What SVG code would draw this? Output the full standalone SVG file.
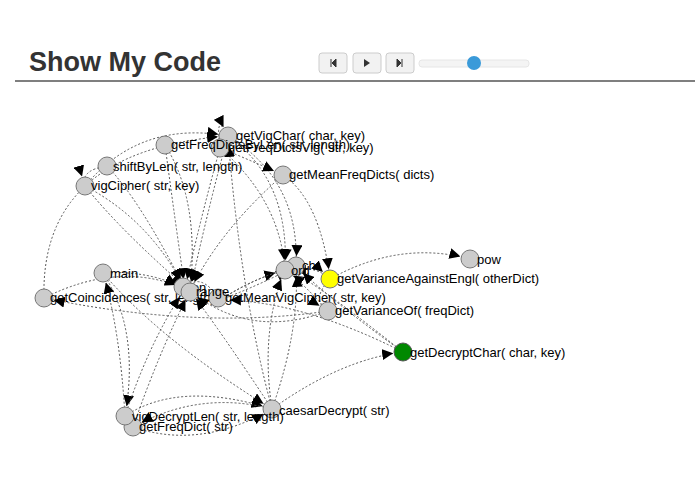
<svg xmlns="http://www.w3.org/2000/svg" width="695" height="494" viewBox="0 0 695 494">
<style>
.e{fill:none;stroke:#555;stroke-width:1;stroke-dasharray:2,2;marker-end:url(#a)}
.n{fill:#ccc;stroke:#777;stroke-width:1}
text{font-family:"Liberation Sans",Arial,sans-serif;font-size:13px;fill:#000}
.btn{fill:#f2f2f2;stroke:#ccc}
</style>
<defs><marker id="a" viewBox="0 0 10 10" refX="19" refY="5" markerWidth="11" markerHeight="11" markerUnits="userSpaceOnUse" orient="auto"><path d="M0,0L10,5L0,10z" fill="#000"/></marker></defs>
<rect width="695" height="494" fill="#fff"/>
<text x="29" y="71" style="font-size:27px;font-weight:bold;fill:#333">Show My Code</text>
<g id="controls">
<rect class="btn" x="319" y="53" width="28" height="20" rx="3"/><rect class="btn" x="353" y="53" width="28" height="20" rx="3"/><rect class="btn" x="386" y="53" width="28" height="20" rx="3"/>
<path d="M331,59v8M332,63l4,-4v8z" stroke="#333" fill="#333"/><path d="M364,59l6,4l-6,4z" fill="#333"/><path d="M402,59v8M397,59l4,4l-4,4z" stroke="#333" fill="#333"/>
<rect x="419" y="60" width="110" height="7" rx="3" fill="#f4f4f4" stroke="#e6e6e6"/>
<circle cx="474" cy="63" r="7" fill="#3a9ad9"/>
</g>
<line x1="15" y1="81" x2="695" y2="81" stroke="#555" stroke-width="1.5"/>
<g id="edges">
<path class="e" d="M44,298Q40,150 228,136"/>
<path class="e" d="M44,298Q120,260 185,289"/>
<path class="e" d="M103,273Q150,270 185,289"/>
<path class="e" d="M103,273Q140,330 125,416"/>
<path class="e" d="M103,273Q160,340 272,409"/>
<path class="e" d="M85,186Q150,220 185,289"/>
<path class="e" d="M85,186Q120,230 190,291"/>
<path class="e" d="M85,186Q140,120 228,136"/>
<path class="e" d="M107,166Q140,200 185,289"/>
<path class="e" d="M107,166Q80,170 85,186"/>
<path class="e" d="M165,145Q175,220 185,289"/>
<path class="e" d="M165,145Q200,200 190,291"/>
<path class="e" d="M220,148Q200,220 185,289"/>
<path class="e" d="M220,148Q215,110 228,136"/>
<path class="e" d="M228,136Q210,200 190,291"/>
<path class="e" d="M228,136Q290,180 285,270"/>
<path class="e" d="M228,136Q300,180 296,266"/>
<path class="e" d="M220,148Q280,200 285,270"/>
<path class="e" d="M220,148Q250,160 283,175"/>
<path class="e" d="M283,175Q220,230 190,291"/>
<path class="e" d="M283,175Q320,200 330,279"/>
<path class="e" d="M220,300Q250,280 285,270"/>
<path class="e" d="M220,300Q260,285 296,266"/>
<path class="e" d="M220,300Q300,250 330,279"/>
<path class="e" d="M330,279Q400,240 470,259"/>
<path class="e" d="M330,279Q310,300 328,311"/>
<path class="e" d="M328,311Q300,280 285,270"/>
<path class="e" d="M328,311Q250,340 190,291"/>
<path class="e" d="M403,352Q300,270 285,270"/>
<path class="e" d="M403,352Q330,300 296,266"/>
<path class="e" d="M403,352Q300,300 220,300"/>
<path class="e" d="M272,409Q260,330 285,270"/>
<path class="e" d="M272,409Q300,330 296,266"/>
<path class="e" d="M272,409Q340,360 403,352"/>
<path class="e" d="M272,409Q220,330 190,291"/>
<path class="e" d="M272,409Q240,290 228,136"/>
<path class="e" d="M125,416Q150,340 185,289"/>
<path class="e" d="M125,416Q180,380 272,409"/>
<path class="e" d="M125,416Q120,330 103,273"/>
<path class="e" d="M133,427Q200,450 272,409"/>
<path class="e" d="M272,409Q200,390 133,427"/>
<path class="e" d="M133,427Q160,350 190,291"/>
<path class="e" d="M328,311Q200,330 44,298"/>
<path class="e" d="M220,300Q200,270 185,289"/>
</g>
<g id="n-getVigChar"><circle class="n" cx="228" cy="136" r="9"/><text x="236" y="140">getVigChar( char, key)</text></g>
<g id="n-getFreqDictsVig"><circle class="n" cx="220" cy="148" r="9"/><text x="228" y="152">getFreqDictsVig( str, key)</text></g>
<g id="n-getFreqDictsByLen"><circle class="n" cx="165" cy="145" r="9"/><text x="171" y="149">getFreqDictsByLen( str, length)</text></g>
<g id="n-shiftByLen"><circle class="n" cx="107" cy="166" r="9"/><text x="113" y="171">shiftByLen( str, length)</text></g>
<g id="n-vigCipher"><circle class="n" cx="85" cy="186" r="9"/><text x="91" y="190">vigCipher( str, key)</text></g>
<g id="n-getMeanFreqDicts"><circle class="n" cx="283" cy="175" r="9"/><text x="289" y="179">getMeanFreqDicts( dicts)</text></g>
<g id="n-main"><circle class="n" cx="103" cy="273" r="9"/><text x="110" y="278">main</text></g>
<g id="n-getCoincidences"><circle class="n" cx="44" cy="298" r="9"/><text x="50" y="302">getCoincidences( str, length)</text></g>
<g id="n-getMeanVigCipher"><circle class="n" cx="218" cy="298" r="9"/><text x="225" y="302">getMeanVigCipher( str, key)</text></g>
<g id="n-len"><circle class="n" cx="183" cy="287" r="9"/><text x="189" y="292">len</text></g>
<g id="n-range"><circle class="n" cx="190" cy="292" r="9"/><text x="196" y="296">range</text></g>
<g id="n-chr"><circle class="n" cx="296" cy="266" r="9"/><text x="302" y="270">chr</text></g>
<g id="n-ord"><circle class="n" cx="285" cy="270" r="9"/><text x="291" y="275">ord</text></g>
<g id="n-pow"><circle class="n" cx="470" cy="259" r="9"/><text x="477" y="264">pow</text></g>
<g id="n-getVarianceOf"><circle class="n" cx="328" cy="311" r="9"/><text x="335" y="315">getVarianceOf( freqDict)</text></g>
<g id="n-getVarianceAgainstEngl"><circle cx="330" cy="279" r="9" fill="#ff0" stroke="#777"/><text x="337" y="283">getVarianceAgainstEngl( otherDict)</text></g>
<g id="n-getDecryptChar"><circle cx="403" cy="352" r="9" fill="#080" stroke="#555"/><text x="410" y="357">getDecryptChar( char, key)</text></g>
<g id="n-caesarDecrypt"><circle class="n" cx="272" cy="409" r="9"/><text x="279" y="415">caesarDecrypt( str)</text></g>
<g id="n-getFreqDict"><circle class="n" cx="133" cy="427" r="9"/><text x="139" y="431">getFreqDict( str)</text></g>
<g id="n-vigDecryptLen"><circle class="n" cx="125" cy="416" r="9"/><text x="132" y="421">vigDecryptLen( str, length)</text></g>
</svg>
